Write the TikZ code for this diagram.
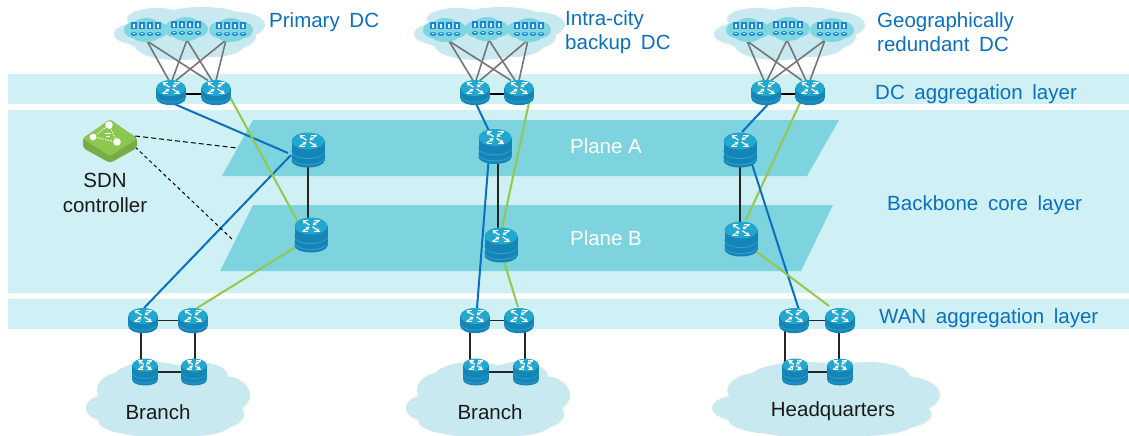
\documentclass[tikz,border=0pt]{standalone}
\usepackage{fontspec}
\setmainfont{Liberation Sans}
\newfontfamily\labfont[WordSpace=1.7]{Liberation Sans}
\usetikzlibrary{arrows.meta,calc}
\definecolor{band}{HTML}{CFF0F5}
\definecolor{plane}{HTML}{7DD4DE}
\definecolor{cloudc}{HTML}{C8E9EF}
\definecolor{cloudd}{HTML}{7FD6E1}
\definecolor{rtop}{HTML}{22A8CE}
\definecolor{rside}{HTML}{1585B8}
\definecolor{rline}{HTML}{2EA3CC}
\definecolor{lblue}{HTML}{0B6FC2}
\definecolor{lgreen}{HTML}{93C84F}
\definecolor{lgray}{HTML}{757575}
\definecolor{txtblue}{HTML}{0B70C0}
\definecolor{txtblack}{HTML}{1A1A1A}
\definecolor{sgreen}{HTML}{8CC850}
\definecolor{sgreend}{HTML}{78AD45}
\newcommand{\rglyphat}[1]{%
  \begin{scope}[shift={(0,#1)}]
    \draw[arr] (-1.5,-0.8) -- (-8.5,-5.5);
    \draw[arr] (-8.5,5.5) -- (-1.5,0.8);
    \draw[arr] (1.5,0.8) -- (8.5,5.5);
    \draw[arr] (8.5,-5.5) -- (1.5,-0.8);
    \draw[white,line width=1.1pt] (-8.5,-5.8) -- (-3,-5.8) (8.5,-5.8) -- (3,-5.8) (-8.5,5.8) -- (-3,5.8) (8.5,5.8) -- (3,5.8);
  \end{scope}}
\tikzset{
  x=1pt,y=-1pt,
  anchorbox/.style={inner sep=0pt,minimum width=26pt,minimum height=24pt,draw=none},
  smallc/.style={inner sep=0pt,minimum width=40pt,minimum height=20pt,draw=none},
  bluelink/.style={draw=lblue,line width=2pt},
  greenlink/.style={draw=lgreen,line width=2pt},
  graylink/.style={draw=lgray,line width=1.6pt},
  blacklink/.style={draw=black!85,line width=1.4pt},
  boldlink/.style={draw=black,line width=2pt},
  dashlink/.style={draw=black,line width=1pt,dash pattern=on 5pt off 3pt},
  lab/.style={font=\labfont\fontsize{20.5}{24}\selectfont,text=txtblue,anchor=west,inner sep=0pt,align=left},
  blab/.style={font=\fontsize{20.5}{25}\selectfont,text=txtblack,inner sep=0pt,align=center},
  wlab/.style={font=\fontsize{20.5}{24}\selectfont,text=white,inner sep=0pt},
  arr/.style={draw=white,line width=1.2pt,-{Stealth[length=3.6pt,width=4.6pt]}},
  pics/routericon/.style={code={
    \fill[rside] (0,5.5) ellipse[x radius=14.7pt,y radius=7.2pt];
    \fill[rside] (-14.7,-4.5) rectangle (14.7,5.5);
    \fill[rline] (0,3) ellipse[x radius=14.7pt,y radius=7pt];
    \fill[rside] (0,2.2) ellipse[x radius=14.7pt,y radius=7pt];
    \fill[rtop] (0,-4.5) ellipse[x radius=14.7pt,y radius=8pt];
    \rglyphat{-4.5}
  }},
  pics/stackicon/.style={code={
    \fill[rside] (0,10.5) ellipse[x radius=16.5pt,y radius=7pt];
    \fill[rside] (-16.5,-9) rectangle (16.5,10.5);
    \fill[rline] (0,8) ellipse[x radius=16.5pt,y radius=7pt];
    \fill[rside] (0,7) ellipse[x radius=16.5pt,y radius=7pt];
    \fill[rline] (0,2) ellipse[x radius=16.5pt,y radius=7pt];
    \fill[rside] (0,1) ellipse[x radius=16.5pt,y radius=7pt];
    \fill[rtop] (0,-9) ellipse[x radius=16.5pt,y radius=8.5pt];
    \rglyphat{-9}
  }},
  pics/bigcloud/.style={code={
    \fill[cloudc] (-5,2) ellipse[x radius=60pt,y radius=22pt];
    \fill[cloudc] (-48,3) ellipse[x radius=25pt,y radius=11pt];
    \fill[cloudc] (-30,-12) ellipse[x radius=30pt,y radius=11pt];
    \fill[cloudc] (15,-14) ellipse[x radius=40pt,y radius=10pt];
    \fill[cloudc] (50,-6) ellipse[x radius=28pt,y radius=13pt];
    \fill[cloudc] (42,5) ellipse[x radius=27pt,y radius=14pt];
    \fill[cloudc] (-8,15) ellipse[x radius=44pt,y radius=14pt];
    \fill[cloudc] (25,14) ellipse[x radius=32pt,y radius=12pt];
  }},
  pics/smallcloud/.style={code={
    \fill[cloudd] (0,0) ellipse[x radius=21pt,y radius=10pt];
    \fill[cloudd] (-12,0) ellipse[x radius=10pt,y radius=8pt];
    \fill[cloudd] (12,0) ellipse[x radius=10pt,y radius=8pt];
    \fill[cloudd] (0,-4) ellipse[x radius=13pt,y radius=8pt];
    \fill[cloudd] (0,5) ellipse[x radius=14pt,y radius=7pt];
    \foreach \dx in {-12,-4,4,12}{
      \fill[rtop!80!blue] (\dx-3,-7.5) rectangle (\dx+3,-0.5);
      \fill[white] (\dx-0.8,-6) rectangle (\dx+0.8,-2);
      \fill[rtop!85!blue] (\dx,4) ellipse[x radius=3.3pt,y radius=2pt];
      \fill[white] (\dx,3.4) ellipse[x radius=1.5pt,y radius=0.6pt];
    }
  }},
  pics/lowcloud/.style={code={
    \fill[cloudc] (0,2) ellipse[x radius=62pt,y radius=30pt];
    \fill[cloudc] (-58,8) ellipse[x radius=24pt,y radius=14pt];
    \fill[cloudc] (-45,-10) ellipse[x radius=26pt,y radius=18pt];
    \fill[cloudc] (-15,-22) ellipse[x radius=40pt,y radius=16pt];
    \fill[cloudc] (30,-24) ellipse[x radius=30pt,y radius=14pt];
    \fill[cloudc] (55,-5) ellipse[x radius=27pt,y radius=19pt];
    \fill[cloudc] (50,14) ellipse[x radius=26pt,y radius=15pt];
    \fill[cloudc] (-35,20) ellipse[x radius=35pt,y radius=14pt];
    \fill[cloudc] (25,24) ellipse[x radius=38pt,y radius=12pt];
    \fill[cloudc] (-5,26) ellipse[x radius=50pt,y radius=12pt];
  }},
}
\begin{document}
\begin{tikzpicture}
\useasboundingbox (0,0) rectangle (1129,436);
\fill[white] (0,0) rectangle (1129,436);
% bands
\fill[band] (8,74) rectangle (1129,104);
\fill[band] (8,110) rectangle (1129,293);
\fill[band] (8,299) rectangle (1129,329);
% planes
\fill[plane] (253,120) -- (839,120) -- (807,176) -- (222,176) -- cycle;
\fill[plane] (253,205) -- (833,205) -- (801,271) -- (220,271) -- cycle;
% clouds
\pic at (187,31) {bigcloud};
\pic at (487,31) {bigcloud};
\pic at (787,31) {bigcloud};
\pic at (168,400) {lowcloud};
\pic at (488,400) {lowcloud};
\pic[xscale=1.39] at (826,400) {lowcloud};
% anchors: small clouds and their ports
\foreach \n/\x/\y in {sa/146/30,sb/186/29,sc/231/30,sd/445/30,se/487/29,sf/529/30,sg/748/30,sh/788/29,si/832/30}{
  \node[smallc] (\n) at (\x,\y) {};
}
\foreach \n/\x/\y in {pa/147/41,pb/187/40,pc/226/40,pd/449/41,pe/489/40,pf/528/40,pg/747/41,ph/787/40,pi/825/40}{
  \coordinate (\n) at (\x,\y);
}
% anchors: routers
\foreach \n/\x/\y in {d1/171/92.5,d2/216/92.5,d3/475/92.5,d4/519/92.5,d5/766/92.5,d6/810/92.5,
  w1/143/320.5,w2/193/320.5,w3/475/320.5,w4/519/320.5,w5/794/320.5,w6/840/320.5,
  l1/145/372,l2/194/372,l3/476/372,l4/526/372,l5/795/372,l6/840/372,
  a1/308/150,a2/495/146.5,a3/740/150,b1/311/235,b2/501/245,b3/741/239}{
  \node[anchorbox] (\n) at (\x,\y) {};
}
\node[inner sep=0pt,minimum width=50pt,minimum height=41pt] (sdn) at (110,141.5) {};
\coordinate (qa) at (237,148);
\coordinate (qb) at (233,240);
% connectors
\foreach \s/\x/\o in {pa/d1/-2,pb/d1/1,pc/d1/5,pa/d2/-8,pb/d2/-4,pc/d2/0,
  pd/d3/-2,pe/d3/1,pf/d3/5,pd/d4/-8,pe/d4/-4,pf/d4/0,
  pg/d5/-2,ph/d5/1,pi/d5/5,pg/d6/-8,ph/d6/-4,pi/d6/0}{
  \draw[graylink] (\s) -- ($(\x)+(\o,-12)$);
}
\foreach \a/\b in {d1/d2,d3/d4,d5/d6}{\draw[boldlink] ($(\a)+(0,1.5)$) -- ($(\b)+(0,1.5)$);}
\foreach \a/\b in {w1/w2,w3/w4,w5/w6,l1/l2,l3/l4,l5/l6}{\draw[blacklink] (\a.center) -- (\b.center);}
\foreach \a/\da/\b/\db in {w1/-2/l1/-4,w2/2/l2/1,w3/-5/l3/-6,w4/6/l4/-1,w5/-9/l5/-10,w6/-1/l6/-1}{
  \draw[blacklink] ($(\a)+(\da,0)$) -- ($(\b)+(\db,0)$);
}
\draw[blacklink] ($(a1)+(0,5)$) -- ($(b1)+(-3,-15)$);
\draw[blacklink] ($(a2)+(3,5)$) -- ($(b2)+(-3,-15)$);
\draw[blacklink] ($(a3)+(0,5)$) -- ($(b3)+(-1,-15)$);
\draw[bluelink] ($(d1)+(1,10.5)$) -- ($(a1)+(-20,3)$);
\draw[bluelink] ($(w1)+(1,-12.5)$) -- ($(a1)+(-17,5)$);
\draw[greenlink] ($(d2)+(14,4.5)$) -- ($(b1)+(-13,-13)$);
\draw[greenlink] ($(w2)+(4,-12.5)$) -- ($(b1)+(-12,10)$);
\draw[bluelink] ($(d3)+(0,9)$) -- ($(a2)+(-6,-15.5)$);
\draw[greenlink] ($(d4)+(10,10)$) -- ($(b2)+(1,-17)$);
\draw[bluelink] ($(a2)+(-6,8.5)$) -- ($(w3)+(2,-12.5)$);
\draw[greenlink] ($(b2)+(1,10)$) -- ($(w4)+(-1,-13.5)$);
\draw[bluelink] ($(d5)+(6,7.5)$) -- ($(a3)+(2,-18)$);
\draw[greenlink] ($(d6)+(-10,10.5)$) -- ($(b3)+(5,-19)$);
\draw[bluelink] ($(a3)+(11,11)$) -- ($(w5)+(5,-10.5)$);
\draw[greenlink] ($(b3)+(4,4)$) -- ($(w6)+(-11,-14.5)$);
\draw[dashlink] ($(sdn.east)+(0,-5.5)$) -- (qa);
\draw[dashlink,dash pattern=on 3.5pt off 3pt] ($(sdn.east)+(0,5.5)$) -- (qb);
% icons
\foreach \n in {sa,sb,sc,sd,se,sf,sg,sh,si}{\pic at (\n) {smallcloud};}
\foreach \n in {d1,d2,d3,d4,d5,d6,w1,w2,w3,w4,w5,w6}{\pic at (\n) {routericon};}
\foreach \n in {a1,a2,a3,b1,b2,b3}{\pic at (\n) {stackicon};}
\foreach \n in {l1,l2,l3,l4,l5,l6}{\pic[scale=0.77] at (\n) {stackicon};}
% controller
\fill[sgreend,rounded corners=3pt] (83,138) -- (110,120) -- (137,138) -- (137,148) -- (110,163) -- (83,148) -- cycle;
\fill[sgreen,rounded corners=3pt] (83,139) -- (110,119) -- (137,139) -- (110,156) -- cycle;
\foreach \x/\y/\r in {109/125/3.8,93/137/3.4,117/142/3.8}{\fill[white] (\x,\y) circle (\r pt);}
\draw[white,line width=0.9pt,dash pattern=on 1.5pt off 1.2pt] (109,125) -- (93,137) -- (117,142) -- cycle;
\draw[white,line width=0.8pt] (105,133) -- (111,133) (106,136) -- (110,136);
% labels
\node[lab] (t1) at (269,22) {Primary DC};
\node[lab] (t2) at (565,32) {Intra-city\\backup DC};
\node[lab] (t3) at (877,32) {Geographically\\redundant DC};
\node[lab] (t4) at (875,94) {DC aggregation layer};
\node[lab] (t5) at (887,205) {Backbone core layer};
\node[lab] (t6) at (879,318) {WAN aggregation layer};
\node[wlab] (pA) at (606,146) {Plane A};
\node[wlab] (pB) at (606,238) {Plane B};
\node[blab] (t7) at (105,193) {SDN\\controller};
\node[blab] (t8) at (158,412) {Branch};
\node[blab] (t9) at (490,412) {Branch};
\node[blab] (t10) at (833,411) {Headquarters};
\end{tikzpicture}
\end{document}
